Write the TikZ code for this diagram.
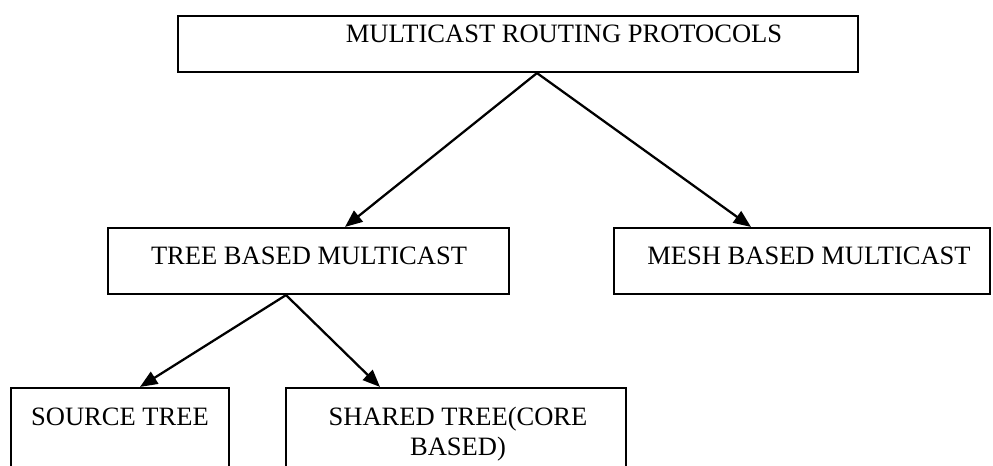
\documentclass[tikz,border=0pt]{standalone}
\usepackage{fontspec}
\setmainfont{Liberation Serif}
\usetikzlibrary{arrows.meta}
\begin{document}
\begin{tikzpicture}[x=0.75pt,y=-0.75pt,
  box/.style={draw, line width=1.6pt, rectangle, inner sep=0pt},
  lbl/.style={anchor=base, inner sep=0pt, font=\fontsize{19.9}{30}\selectfont},
  arr/.style={line width=1.7pt, -{Triangle[length=13pt,width=10.5pt]}}]
\useasboundingbox (0,0) rectangle (993,465);
\clip (0,0) rectangle (993,465);
% boxes
\node[box, minimum width=510pt, minimum height=42pt] (top) at (518,44) {};
\node[box, minimum width=300.75pt, minimum height=49.5pt] (tree) at (308.5,261) {};
\node[box, minimum width=282pt, minimum height=49.5pt] (mesh) at (802,261) {};
\node[box, minimum width=163.5pt, minimum height=84pt] (src) at (120,444) {};
\node[box, minimum width=255pt, minimum height=84pt] (shared) at (456,444) {};
% texts
\node[lbl] (ttop) at (564,42) {MULTICAST ROUTING PROTOCOLS};
\node[lbl] (ttree) at (309,264) {TREE BASED MULTICAST};
\node[lbl] (tmesh) at (809,264) {MESH BASED MULTICAST};
\node[lbl] (tsrc) at (120,425) {SOURCE TREE};
\node[lbl] (tsh1) at (458,425) {SHARED TREE(CORE};
\node[lbl] (tsh2) at (458,455) {BASED)};
% connector points
\coordinate (a1) at (top.south -| 537,0);
\coordinate (e1) at (tree.north -| 345,0);
\coordinate (e2) at (mesh.north -| 751,0);
\coordinate (a2) at (tree.south -| 286,0);
\coordinate (e3) at (src.north -| 140,0);
\coordinate (e4) at (shared.north -| 380,0);
\draw[arr] (a1) -- (e1);
\draw[arr] (a1) -- (e2);
\draw[arr] (a2) -- (e3);
\draw[arr] (a2) -- (e4);
\end{tikzpicture}
\end{document}
